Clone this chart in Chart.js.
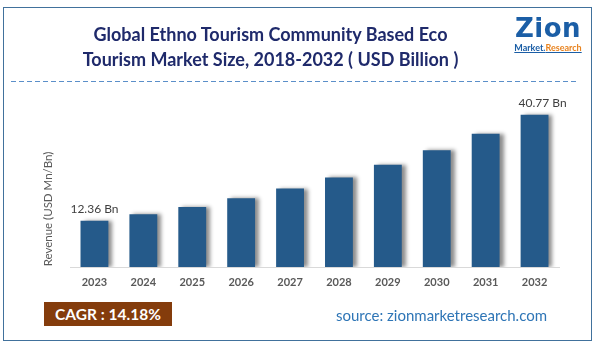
<!DOCTYPE html>
<html>
<head>
<meta charset="utf-8">
<script src="https://cdn.jsdelivr.net/npm/chart.js@4"></script>
<style>
html, body { margin: 0; padding: 0; background: #fff; }
#wrap { position: relative; width: 598px; height: 346px; overflow: hidden; font-family: Lato, 'Open Sans', sans-serif; }
#chart { position: absolute; left: 0; top: 0; }
#frame { position: absolute; left: 3px; top: 7px; width: 589px; height: 334px; box-sizing: border-box; border: 1.5px solid #41719c; }
#title { position: absolute; left: 0; top: 22px; width: 541px; text-align: center; font-weight: 700; font-size: 18px; line-height: 25px; color: #1f2a6b; }
#dash { position: absolute; left: 11px; top: 81px; width: 567px; height: 1px; background: repeating-linear-gradient(to right, #5b8fc9 0 5px, transparent 5px 8px); }
#logo { position: absolute; left: 511px; top: 13px; width: 74px; text-align: center; }
#logo .big { font-family: 'DejaVu Sans', sans-serif; font-weight: 700; font-size: 26px; line-height: 30px; color: #1b5ea6; letter-spacing: 0.5px; }
#logo .small { font-weight: 700; font-size: 9px; line-height: 10px; text-decoration: underline; color: #1b5ea6; white-space: nowrap; }
#logo .small span { color: #e8821e; }
#ylabel { position: absolute; left: 47px; top: 209px; transform: translate(-50%, -50%) rotate(-90deg); font-size: 11.5px; color: #595959; white-space: nowrap; }
#cagr { position: absolute; left: 44px; top: 302px; width: 128px; height: 24px; background: #843c0c; color: #fff; font-weight: 700; font-size: 15.5px; line-height: 24px; text-align: center; }
#source { position: absolute; left: 336px; top: 306px; font-size: 15px; color: #2e75b6; white-space: nowrap; }
</style>
</head>
<body>
<div id="wrap">
  <canvas id="chart" width="598" height="346"></canvas>
  <div id="frame"></div>
  <div id="title">Global Ethno Tourism Community Based Eco<br>Tourism Market Size, 2018-2032 ( USD Billion )</div>
  <div id="dash"></div>
  <div id="logo">
    <div class="big">Zion</div>
    <div class="small">Market.<span>Research</span></div>
  </div>
  <div id="ylabel">Revenue (USD Mn/Bn)</div>
  <div id="cagr">CAGR : 14.18%</div>
  <div id="source">source: zionmarketresearch.com</div>
</div>
<script>
const years = ['2023', '2024', '2025', '2026', '2027', '2028', '2029', '2030', '2031', '2032'];
const revenue = [12.36, 14.1, 16.1, 18.4, 21.0, 24.0, 27.4, 31.3, 35.7, 40.77];
const valueLabels = ['12.36 Bn', '', '', '', '', '', '', '', '', '40.77 Bn'];

const barDecor = {
    id: 'barDecor',
    beforeDatasetsDraw(chart) {
        const ctx = chart.ctx;
        ctx.save();
        ctx.shadowColor = 'rgba(0, 0, 0, 0.45)';
        ctx.shadowOffsetX = 4;
        ctx.shadowOffsetY = 0;
        ctx.shadowBlur = 4;
    },
    afterDatasetsDraw(chart) {
        const ctx = chart.ctx;
        ctx.restore();
        const meta = chart.getDatasetMeta(0);
        ctx.save();
        ctx.font = '12px Lato, sans-serif';
        ctx.fillStyle = '#404040';
        ctx.textAlign = 'center';
        ctx.textBaseline = 'alphabetic';
        meta.data.forEach(function(bar, i) {
            if (!valueLabels[i]) return;
            const dx = i === meta.data.length - 1 ? 8 : 0;
            ctx.fillText(valueLabels[i], bar.x + dx, bar.y - 8);
        });
        ctx.restore();
    }
};

new Chart(document.getElementById('chart').getContext('2d'), {
    type: 'bar',
    data: {
        labels: years,
        datasets: [{
            data: revenue,
            backgroundColor: '#255a8a',
            borderWidth: 0,
            barPercentage: 0.57,
            categoryPercentage: 1
        }]
    },
    options: {
        responsive: false,
        animation: false,
        layout: { padding: { left: 70, right: 39, top: 99, bottom: 49 } },
        plugins: {
            legend: { display: false },
            tooltip: { enabled: false }
        },
        scales: {
            x: {
                afterFit: function(scale) { scale.height = 30; },
                grid: { drawOnChartArea: false, drawTicks: false },
                border: { color: '#d9d9d9', width: 1 },
                ticks: {
                    padding: 9,
                    color: '#595959',
                    font: { family: 'Lato', size: 11, weight: 'bold' }
                }
            },
            y: {
                display: false,
                min: 0,
                max: 45
            }
        }
    },
    plugins: [barDecor]
});
</script>
</body>
</html>
